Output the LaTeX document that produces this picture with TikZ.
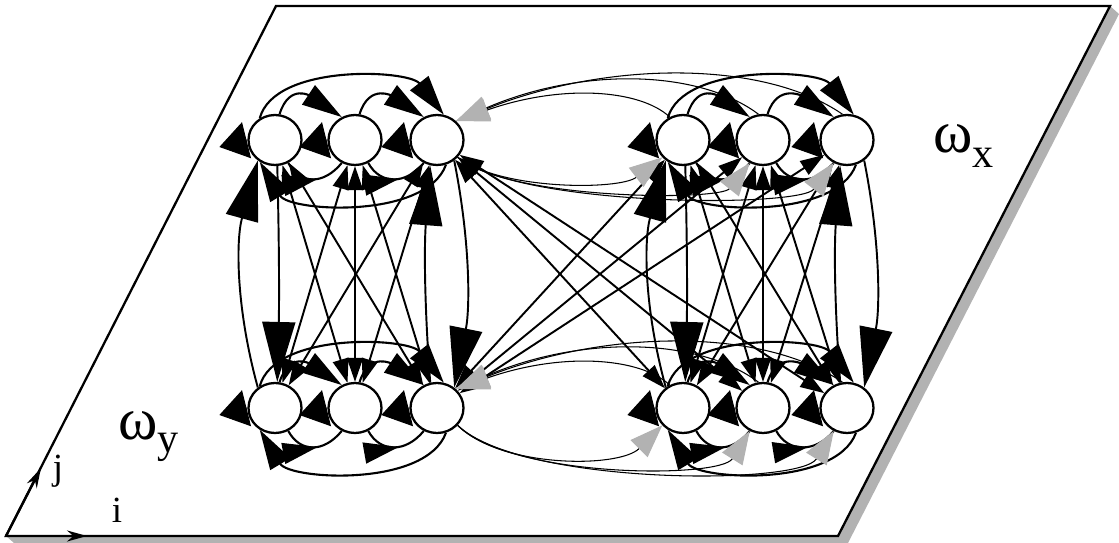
\documentclass[tikz,border=0pt]{standalone}
\usepackage{fontspec}
\setmainfont{Liberation Serif}
\usetikzlibrary{shapes.geometric,arrows.meta,decorations.markings}
\pgfdeclarelayer{back}
\pgfdeclarelayer{mid}
\pgfsetlayers{back,mid,main}
\tikzset{
 nd/.style={ellipse,draw,line width=1.3pt,fill=white,minimum width=1.06cm,minimum height=1.0cm,inner sep=0pt},
 ln/.style={line width=1.1pt},
 hair/.style={line width=0.6pt},
 arcln/.style={line width=1.2pt},
 bighd/.style={-{Triangle[length=1.2cm,width=0.66cm]}},
 westhd/.style={-{Triangle[length=0.56cm,width=0.74cm]}},
 archd/.style={-{Triangle[length=0.8cm,width=0.46cm]}},
 sm/.style={{Triangle[length=0.48cm,width=0.32cm]}-{Triangle[length=0.48cm,width=0.32cm]}},
 grayhd/.style={-{Triangle[length=0.66cm,width=0.48cm,color=gray!60]}},
 midhd/.style={postaction={decorate},decoration={markings,mark=at position 0.55 with {\arrow{Triangle[length=0.7cm,width=0.42cm]}}}},
 lbl/.style={inner sep=0pt},
}
\begin{document}
\begin{tikzpicture}[x=0.02cm,y=-0.02cm]
\useasboundingbox (0,0) rectangle (1119,543);
\coordinate (P1) at (6,536);
\coordinate (P2) at (276,6);
\coordinate (P3) at (1110,6);
\coordinate (P4) at (838,536);
\coordinate (S1) at (1119,14);
\coordinate (S2) at (848,543);
\coordinate (S3) at (14,543);
\begin{pgfonlayer}{back}
\fill[gray!60] (P3) -- (S1) -- (S2) -- (S3) -- (P1) -- (P4) -- cycle;
\draw[line width=1.3pt,fill=white] (P1) -- (P2) -- (P3) -- (P4) -- cycle;
\end{pgfonlayer}
% axes
\coordinate (iend) at (87,536);
\coordinate (jend) at (41,468);
\draw[line width=1.3pt,-{Stealth[length=0.4cm,width=0.22cm]}] (P1) -- (iend);
\draw[line width=1.3pt,-{Stealth[length=0.4cm,width=0.22cm]}] (P1) -- (jend);
\node[lbl,anchor=base] (ilab) at (117,522) {\fontsize{21}{21}\selectfont i};
\node[lbl,anchor=base] (jlab) at (58,480) {\fontsize{21}{21}\selectfont j};
\node[lbl,anchor=base west] (wy) at (118,440) {\fontsize{34}{34}\selectfont ω\raisebox{-7pt}{\fontsize{24}{24}\selectfont y}};
\node[lbl,anchor=base west] (wx) at (933,153) {\fontsize{34}{34}\selectfont ω\raisebox{-8pt}{\fontsize{24}{24}\selectfont x}};
% nodes
\foreach \rw/\yy in {T/140,B/408}
 \foreach \cl/\xa/\xb/\xc in {L/275/355/437,R/683/763/847} {
  \node[nd] (\rw\cl1) at (\xa,\yy) {};
  \node[nd] (\rw\cl2) at (\xb,\yy) {};
  \node[nd] (\rw\cl3) at (\xc,\yy) {};
 }
\begin{pgfonlayer}{mid}
% within groups
\foreach \g in {TL,TR,BL,BR} {
 \draw[arcln,archd] (\g1.125) .. controls +(15,-55) and +(-35,-45) .. (\g3.75);
 \draw[arcln,archd] (\g1.80) .. controls +(10,-32) and +(-30,-20) .. (\g2.120);
 \draw[arcln,archd] (\g2.80) .. controls +(10,-32) and +(-30,-20) .. (\g3.120);
 \draw[arcln,archd] (\g3.-70) .. controls +(-20,55) and +(30,50) .. (\g1.-125);
 \draw[arcln,midhd] (\g1.-60) .. controls +(12,22) and +(-18,22) .. (\g2.-120);
 \draw[arcln,midhd] (\g2.-60) .. controls +(12,22) and +(-18,22) .. (\g3.-120);
 \foreach \k in {1,2,3} \draw[hair,westhd] (\g\k.west) -- +(-28,7);
}
% within columns
\foreach \cl in {L,R} {
 \foreach \i/\j in {1/2,1/3,2/1,2/2,2/3,3/1,3/2} \draw[ln,sm] (T\cl\i) -- (B\cl\j);
 \draw[ln,bighd] (B\cl1.130) .. controls +(-22,-80) and +(-22,80) .. (T\cl1.-130);
 \draw[ln,bighd] (T\cl1.-85) .. controls +(2,80) and +(2,-80) .. (B\cl1.85);
 \draw[ln,bighd] (B\cl3.105) .. controls +(-6,-80) and +(-6,80) .. (T\cl3.-105);
 \draw[ln,bighd] (T\cl3.-50) .. controls +(16,80) and +(16,-80) .. (B\cl3.50);
}
% across groups
\foreach \j in {1,2,3} {
 \draw[ln,sm] (TL3) -- (BR\j);
 \draw[ln,sm] (BL3) -- (TR\j);
}
% gray arcs between groups
\foreach \rw/\ex in {T/0,B/10} {
 \draw[hair,grayhd] (\rw R3.100) .. controls +(-80,-55) and +(150,-60) .. (\rw L3.45);
 \draw[hair,grayhd] (\rw R2.100) .. controls +(-60,-45) and +(125,-54) .. (\rw L3.45);
 \draw[hair,grayhd] (\rw R1.120) .. controls +(-30,-28) and +(105,-37) .. (\rw L3.45);
 \draw[hair,grayhd] (\rw L3.-40) .. controls +(43,33+\ex) and +(-43,33+\ex) .. (\rw R1.-140);
 \draw[hair,grayhd] (\rw L3.-40) .. controls +(53,43+\ex) and +(-30,38+\ex) .. (\rw R2.-120);
 \draw[hair,grayhd] (\rw L3.-40) .. controls +(63,50+\ex) and +(-34,45+\ex) .. (\rw R3.-120);
}
\end{pgfonlayer}
\end{tikzpicture}
\end{document}
